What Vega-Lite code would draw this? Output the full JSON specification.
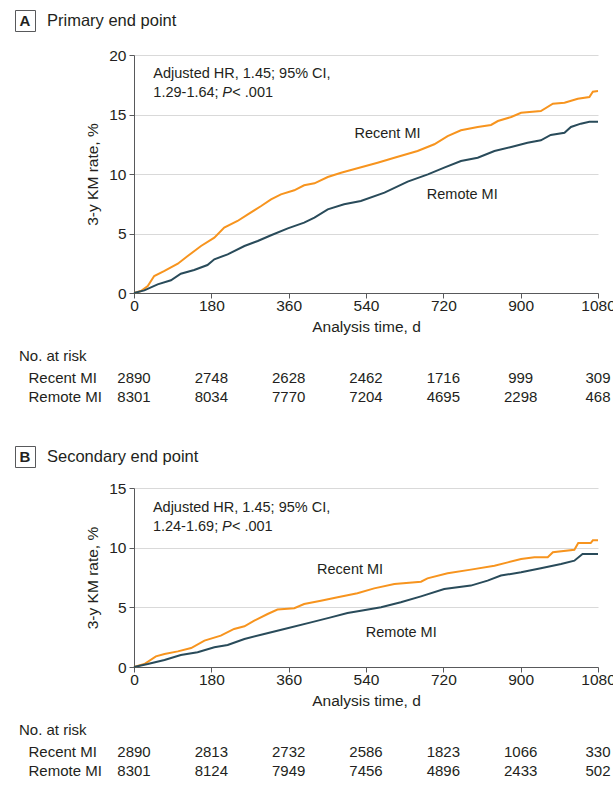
{
  "$schema": "https://vega.github.io/schema/vega-lite/v6.json",
  "background": "white",
  "padding": {"left": 14, "top": 9, "right": 0, "bottom": 0},
  "config": {
    "font": "Liberation Sans",
    "view": {"stroke": null},
    "axis": {
      "labelFont": "Liberation Sans",
      "titleFont": "Liberation Sans",
      "labelFontSize": 15.5,
      "titleFontSize": 15.5,
      "titleFontWeight": "normal",
      "labelColor": "#231F20",
      "titleColor": "#231F20",
      "domainColor": "#58595B",
      "tickColor": "#58595B",
      "tickSize": 5,
      "labelPadding": 3,
      "gridColor": "#D9D9D9",
      "labelFlush": false
    },
    "axisX": {"labelPadding": 0, "titlePadding": 6},
    "title": {"font": "Liberation Sans", "fontWeight": "normal", "color": "#231F20"},
    "text": {"font": "Liberation Sans", "color": "#231F20"}
  },
  "datasets": {
    "lineA": [
      {"group": "Recent MI", "day": 0, "rate": 0},
      {"group": "Recent MI", "day": 16, "rate": 0.17},
      {"group": "Recent MI", "day": 32, "rate": 0.59},
      {"group": "Recent MI", "day": 47, "rate": 1.43},
      {"group": "Recent MI", "day": 71, "rate": 1.85},
      {"group": "Recent MI", "day": 102, "rate": 2.46},
      {"group": "Recent MI", "day": 125, "rate": 3.11},
      {"group": "Recent MI", "day": 156, "rate": 3.95},
      {"group": "Recent MI", "day": 187, "rate": 4.65},
      {"group": "Recent MI", "day": 210, "rate": 5.49},
      {"group": "Recent MI", "day": 241, "rate": 6.05},
      {"group": "Recent MI", "day": 265, "rate": 6.61},
      {"group": "Recent MI", "day": 296, "rate": 7.31},
      {"group": "Recent MI", "day": 319, "rate": 7.87},
      {"group": "Recent MI", "day": 342, "rate": 8.29},
      {"group": "Recent MI", "day": 373, "rate": 8.63},
      {"group": "Recent MI", "day": 396, "rate": 9.05},
      {"group": "Recent MI", "day": 420, "rate": 9.22},
      {"group": "Recent MI", "day": 451, "rate": 9.75},
      {"group": "Recent MI", "day": 482, "rate": 10.11},
      {"group": "Recent MI", "day": 520, "rate": 10.48},
      {"group": "Recent MI", "day": 567, "rate": 10.95},
      {"group": "Recent MI", "day": 606, "rate": 11.37},
      {"group": "Recent MI", "day": 660, "rate": 11.93},
      {"group": "Recent MI", "day": 699, "rate": 12.5},
      {"group": "Recent MI", "day": 730, "rate": 13.19},
      {"group": "Recent MI", "day": 761, "rate": 13.67},
      {"group": "Recent MI", "day": 800, "rate": 13.95},
      {"group": "Recent MI", "day": 831, "rate": 14.12},
      {"group": "Recent MI", "day": 847, "rate": 14.45},
      {"group": "Recent MI", "day": 878, "rate": 14.79},
      {"group": "Recent MI", "day": 901, "rate": 15.15},
      {"group": "Recent MI", "day": 947, "rate": 15.29},
      {"group": "Recent MI", "day": 975, "rate": 15.91},
      {"group": "Recent MI", "day": 1002, "rate": 15.99},
      {"group": "Recent MI", "day": 1033, "rate": 16.33},
      {"group": "Recent MI", "day": 1060, "rate": 16.47},
      {"group": "Recent MI", "day": 1068, "rate": 16.92},
      {"group": "Recent MI", "day": 1080, "rate": 16.97},
      {"group": "Remote MI", "day": 0, "rate": 0},
      {"group": "Remote MI", "day": 24, "rate": 0.22},
      {"group": "Remote MI", "day": 55, "rate": 0.73},
      {"group": "Remote MI", "day": 86, "rate": 1.07},
      {"group": "Remote MI", "day": 109, "rate": 1.62},
      {"group": "Remote MI", "day": 140, "rate": 1.93},
      {"group": "Remote MI", "day": 171, "rate": 2.35},
      {"group": "Remote MI", "day": 187, "rate": 2.83},
      {"group": "Remote MI", "day": 218, "rate": 3.25},
      {"group": "Remote MI", "day": 257, "rate": 3.95},
      {"group": "Remote MI", "day": 288, "rate": 4.37},
      {"group": "Remote MI", "day": 319, "rate": 4.85},
      {"group": "Remote MI", "day": 358, "rate": 5.43},
      {"group": "Remote MI", "day": 396, "rate": 5.91},
      {"group": "Remote MI", "day": 420, "rate": 6.33},
      {"group": "Remote MI", "day": 451, "rate": 7.03},
      {"group": "Remote MI", "day": 489, "rate": 7.45},
      {"group": "Remote MI", "day": 528, "rate": 7.73},
      {"group": "Remote MI", "day": 583, "rate": 8.43},
      {"group": "Remote MI", "day": 637, "rate": 9.36},
      {"group": "Remote MI", "day": 684, "rate": 9.97},
      {"group": "Remote MI", "day": 722, "rate": 10.53},
      {"group": "Remote MI", "day": 761, "rate": 11.09},
      {"group": "Remote MI", "day": 800, "rate": 11.37},
      {"group": "Remote MI", "day": 839, "rate": 11.93},
      {"group": "Remote MI", "day": 878, "rate": 12.27},
      {"group": "Remote MI", "day": 916, "rate": 12.63},
      {"group": "Remote MI", "day": 947, "rate": 12.83},
      {"group": "Remote MI", "day": 970, "rate": 13.28},
      {"group": "Remote MI", "day": 1002, "rate": 13.47},
      {"group": "Remote MI", "day": 1017, "rate": 13.95},
      {"group": "Remote MI", "day": 1040, "rate": 14.23},
      {"group": "Remote MI", "day": 1060, "rate": 14.39},
      {"group": "Remote MI", "day": 1080, "rate": 14.39}
    ],
    "lineB": [
      {"group": "Recent MI", "day": 0, "rate": 0},
      {"group": "Recent MI", "day": 24, "rate": 0.25},
      {"group": "Recent MI", "day": 51, "rate": 0.89},
      {"group": "Recent MI", "day": 71, "rate": 1.09},
      {"group": "Recent MI", "day": 102, "rate": 1.31},
      {"group": "Recent MI", "day": 133, "rate": 1.59},
      {"group": "Recent MI", "day": 164, "rate": 2.21},
      {"group": "Recent MI", "day": 202, "rate": 2.63},
      {"group": "Recent MI", "day": 233, "rate": 3.19},
      {"group": "Recent MI", "day": 257, "rate": 3.41},
      {"group": "Recent MI", "day": 280, "rate": 3.88},
      {"group": "Recent MI", "day": 311, "rate": 4.44},
      {"group": "Recent MI", "day": 334, "rate": 4.81},
      {"group": "Recent MI", "day": 373, "rate": 4.92},
      {"group": "Recent MI", "day": 396, "rate": 5.28},
      {"group": "Recent MI", "day": 435, "rate": 5.56},
      {"group": "Recent MI", "day": 474, "rate": 5.84},
      {"group": "Recent MI", "day": 520, "rate": 6.18},
      {"group": "Recent MI", "day": 559, "rate": 6.59},
      {"group": "Recent MI", "day": 606, "rate": 6.96},
      {"group": "Recent MI", "day": 668, "rate": 7.15},
      {"group": "Recent MI", "day": 683, "rate": 7.43},
      {"group": "Recent MI", "day": 730, "rate": 7.85},
      {"group": "Recent MI", "day": 784, "rate": 8.16},
      {"group": "Recent MI", "day": 839, "rate": 8.49},
      {"group": "Recent MI", "day": 870, "rate": 8.77},
      {"group": "Recent MI", "day": 901, "rate": 9.05},
      {"group": "Recent MI", "day": 932, "rate": 9.19},
      {"group": "Recent MI", "day": 963, "rate": 9.19},
      {"group": "Recent MI", "day": 975, "rate": 9.61},
      {"group": "Recent MI", "day": 1025, "rate": 9.83},
      {"group": "Recent MI", "day": 1034, "rate": 10.39},
      {"group": "Recent MI", "day": 1063, "rate": 10.39},
      {"group": "Recent MI", "day": 1068, "rate": 10.62},
      {"group": "Recent MI", "day": 1080, "rate": 10.62},
      {"group": "Remote MI", "day": 0, "rate": 0},
      {"group": "Remote MI", "day": 32, "rate": 0.25},
      {"group": "Remote MI", "day": 71, "rate": 0.59},
      {"group": "Remote MI", "day": 109, "rate": 1.01},
      {"group": "Remote MI", "day": 148, "rate": 1.23},
      {"group": "Remote MI", "day": 187, "rate": 1.65},
      {"group": "Remote MI", "day": 218, "rate": 1.84},
      {"group": "Remote MI", "day": 257, "rate": 2.35},
      {"group": "Remote MI", "day": 303, "rate": 2.77},
      {"group": "Remote MI", "day": 350, "rate": 3.19},
      {"group": "Remote MI", "day": 412, "rate": 3.74},
      {"group": "Remote MI", "day": 458, "rate": 4.16},
      {"group": "Remote MI", "day": 497, "rate": 4.52},
      {"group": "Remote MI", "day": 528, "rate": 4.72},
      {"group": "Remote MI", "day": 575, "rate": 5.0},
      {"group": "Remote MI", "day": 621, "rate": 5.42},
      {"group": "Remote MI", "day": 668, "rate": 5.92},
      {"group": "Remote MI", "day": 722, "rate": 6.54},
      {"group": "Remote MI", "day": 784, "rate": 6.82},
      {"group": "Remote MI", "day": 823, "rate": 7.24},
      {"group": "Remote MI", "day": 854, "rate": 7.66},
      {"group": "Remote MI", "day": 901, "rate": 7.94},
      {"group": "Remote MI", "day": 947, "rate": 8.27},
      {"group": "Remote MI", "day": 994, "rate": 8.63},
      {"group": "Remote MI", "day": 1025, "rate": 8.91},
      {"group": "Remote MI", "day": 1044, "rate": 9.47},
      {"group": "Remote MI", "day": 1080, "rate": 9.47}
    ],
    "riskA": [
      {"group": "Recent MI", "day": 0, "n": "2890"},
      {"group": "Recent MI", "day": 180, "n": "2748"},
      {"group": "Recent MI", "day": 360, "n": "2628"},
      {"group": "Recent MI", "day": 540, "n": "2462"},
      {"group": "Recent MI", "day": 720, "n": "1716"},
      {"group": "Recent MI", "day": 900, "n": "999"},
      {"group": "Recent MI", "day": 1080, "n": "309"},
      {"group": "Remote MI", "day": 0, "n": "8301"},
      {"group": "Remote MI", "day": 180, "n": "8034"},
      {"group": "Remote MI", "day": 360, "n": "7770"},
      {"group": "Remote MI", "day": 540, "n": "7204"},
      {"group": "Remote MI", "day": 720, "n": "4695"},
      {"group": "Remote MI", "day": 900, "n": "2298"},
      {"group": "Remote MI", "day": 1080, "n": "468"}
    ],
    "riskB": [
      {"group": "Recent MI", "day": 0, "n": "2890"},
      {"group": "Recent MI", "day": 180, "n": "2813"},
      {"group": "Recent MI", "day": 360, "n": "2732"},
      {"group": "Recent MI", "day": 540, "n": "2586"},
      {"group": "Recent MI", "day": 720, "n": "1823"},
      {"group": "Recent MI", "day": 900, "n": "1066"},
      {"group": "Recent MI", "day": 1080, "n": "330"},
      {"group": "Remote MI", "day": 0, "n": "8301"},
      {"group": "Remote MI", "day": 180, "n": "8124"},
      {"group": "Remote MI", "day": 360, "n": "7949"},
      {"group": "Remote MI", "day": 540, "n": "7456"},
      {"group": "Remote MI", "day": 720, "n": "4896"},
      {"group": "Remote MI", "day": 900, "n": "2433"},
      {"group": "Remote MI", "day": 1080, "n": "502"}
    ]
  },
  "spacing": 39,
  "vconcat": [
    {
      "spacing": 16,
      "vconcat": [
        {
          "width": 20,
          "height": 21,
          "view": {"stroke": "#58595B", "strokeWidth": 1},
          "data": {"values": [{"letter": "A", "label": "Primary end point"}]},
          "layer": [
            {"mark": {"type": "text", "fontWeight": "bold", "fontSize": 15, "baseline": "middle"}, "encoding": {"text": {"field": "letter"}}},
            {"mark": {"type": "text", "align": "left", "fontSize": 16.5, "baseline": "middle", "dx": 22}, "encoding": {"text": {"field": "label"}}}
          ]
        },
        {
          "spacing": 3,
          "hconcat": [
            {"width": 1, "height": 1, "data": {"values": []}, "mark": "point"},
            {
              "spacing": 14,
              "vconcat": [
                {
                  "width": 464,
                  "height": 238,
                  "layer": [
                    {
                      "data": {"name": "lineA"},
                      "mark": {"type": "line", "strokeWidth": 2},
                      "encoding": {
                        "x": {"field": "day", "type": "quantitative", "scale": {"domain": [0, 1080], "nice": false}, "axis": {"values": [0, 180, 360, 540, 720, 900, 1080], "format": "d", "title": "Analysis time, d", "grid": false}},
                        "y": {"field": "rate", "type": "quantitative", "scale": {"domain": [0, 20], "nice": false}, "axis": {"values": [0, 5, 10, 15, 20], "title": "3-y KM rate, %", "grid": true, "titlePadding": 8}},
                        "color": {"field": "group", "type": "nominal", "scale": {"domain": ["Recent MI", "Remote MI"], "range": ["#F7941E", "#294B5A"]}, "legend": null}
                      }
                    },
                    {
                      "data": {"values": [{"line1": "Adjusted HR, 1.45; 95% CI,", "line2": "1.29-1.64; ", "p": "P", "rest": "< .001"}]},
                      "layer": [
                        {"mark": {"type": "text", "align": "left", "fontSize": 14.5, "baseline": "middle"}, "encoding": {"x": {"datum": 45}, "y": {"datum": 18.38}, "text": {"field": "line1"}}},
                        {"mark": {"type": "text", "align": "left", "fontSize": 14.5, "baseline": "middle"}, "encoding": {"x": {"datum": 45}, "y": {"datum": 16.78}, "text": {"field": "line2"}}},
                        {"mark": {"type": "text", "align": "left", "fontSize": 14.5, "baseline": "middle", "fontStyle": "italic", "dx": 69}, "encoding": {"x": {"datum": 45}, "y": {"datum": 16.78}, "text": {"field": "p"}}},
                        {"mark": {"type": "text", "align": "left", "fontSize": 14.5, "baseline": "middle", "dx": 79}, "encoding": {"x": {"datum": 45}, "y": {"datum": 16.78}, "text": {"field": "rest"}}}
                      ]
                    },
                    {
                      "data": {"values": [{"label": "Recent MI", "day": 590, "rate": 13.39}, {"label": "Remote MI", "day": 764, "rate": 8.21}]},
                      "mark": {"type": "text", "fontSize": 14.5, "baseline": "middle"},
                      "encoding": {"x": {"field": "day", "type": "quantitative"}, "y": {"field": "rate", "type": "quantitative"}, "text": {"field": "label"}}
                    }
                  ]
                },
                {
                  "width": 464,
                  "height": 38,
                  "title": {"text": "No. at risk", "anchor": "start", "frame": "group", "dx": -115, "fontSize": 15, "offset": 4},
                  "data": {"name": "riskA"},
                  "mark": {"type": "text", "fontSize": 15, "baseline": "middle"},
                  "encoding": {
                    "x": {"field": "day", "type": "quantitative", "scale": {"domain": [0, 1080], "nice": false}, "axis": null},
                    "y": {"field": "group", "type": "nominal", "scale": {"domain": ["Recent MI", "Remote MI"]}, "axis": {"title": null, "domain": false, "ticks": false, "labelAlign": "left", "labelPadding": 106, "labelFontSize": 15}},
                    "text": {"field": "n", "type": "nominal"}
                  }
                }
              ]
            }
          ]
        }
      ]
    },
    {
      "spacing": 13,
      "vconcat": [
        {
          "width": 20,
          "height": 21,
          "view": {"stroke": "#58595B", "strokeWidth": 1},
          "data": {"values": [{"letter": "B", "label": "Secondary end point"}]},
          "layer": [
            {"mark": {"type": "text", "fontWeight": "bold", "fontSize": 15, "baseline": "middle"}, "encoding": {"text": {"field": "letter"}}},
            {"mark": {"type": "text", "align": "left", "fontSize": 16.5, "baseline": "middle", "dx": 22}, "encoding": {"text": {"field": "label"}}}
          ]
        },
        {
          "spacing": 3,
          "hconcat": [
            {"width": 1, "height": 1, "data": {"values": []}, "mark": "point"},
            {
              "spacing": 14,
              "vconcat": [
                {
                  "width": 464,
                  "height": 179,
                  "layer": [
                    {
                      "data": {"name": "lineB"},
                      "mark": {"type": "line", "strokeWidth": 2},
                      "encoding": {
                        "x": {"field": "day", "type": "quantitative", "scale": {"domain": [0, 1080], "nice": false}, "axis": {"values": [0, 180, 360, 540, 720, 900, 1080], "format": "d", "title": "Analysis time, d", "grid": false}},
                        "y": {"field": "rate", "type": "quantitative", "scale": {"domain": [0, 15], "nice": false}, "axis": {"values": [0, 5, 10, 15], "title": "3-y KM rate, %", "grid": true, "titlePadding": 8}},
                        "color": {"field": "group", "type": "nominal", "scale": {"domain": ["Recent MI", "Remote MI"], "range": ["#F7941E", "#294B5A"]}, "legend": null}
                      }
                    },
                    {
                      "data": {"values": [{"line1": "Adjusted HR, 1.45; 95% CI,", "line2": "1.24-1.69; ", "p": "P", "rest": "< .001"}]},
                      "layer": [
                        {"mark": {"type": "text", "align": "left", "fontSize": 14.5, "baseline": "middle"}, "encoding": {"x": {"datum": 44}, "y": {"datum": 13.3}, "text": {"field": "line1"}}},
                        {"mark": {"type": "text", "align": "left", "fontSize": 14.5, "baseline": "middle"}, "encoding": {"x": {"datum": 44}, "y": {"datum": 11.71}, "text": {"field": "line2"}}},
                        {"mark": {"type": "text", "align": "left", "fontSize": 14.5, "baseline": "middle", "fontStyle": "italic", "dx": 69}, "encoding": {"x": {"datum": 44}, "y": {"datum": 11.71}, "text": {"field": "p"}}},
                        {"mark": {"type": "text", "align": "left", "fontSize": 14.5, "baseline": "middle", "dx": 79}, "encoding": {"x": {"datum": 44}, "y": {"datum": 11.71}, "text": {"field": "rest"}}}
                      ]
                    },
                    {
                      "data": {"values": [{"label": "Recent MI", "day": 503, "rate": 8.16}, {"label": "Remote MI", "day": 622, "rate": 2.85}]},
                      "mark": {"type": "text", "fontSize": 14.5, "baseline": "middle"},
                      "encoding": {"x": {"field": "day", "type": "quantitative"}, "y": {"field": "rate", "type": "quantitative"}, "text": {"field": "label"}}
                    }
                  ]
                },
                {
                  "width": 464,
                  "height": 38,
                  "title": {"text": "No. at risk", "anchor": "start", "frame": "group", "dx": -115, "fontSize": 15, "offset": 4},
                  "data": {"name": "riskB"},
                  "mark": {"type": "text", "fontSize": 15, "baseline": "middle"},
                  "encoding": {
                    "x": {"field": "day", "type": "quantitative", "scale": {"domain": [0, 1080], "nice": false}, "axis": null},
                    "y": {"field": "group", "type": "nominal", "scale": {"domain": ["Recent MI", "Remote MI"]}, "axis": {"title": null, "domain": false, "ticks": false, "labelAlign": "left", "labelPadding": 106, "labelFontSize": 15}},
                    "text": {"field": "n", "type": "nominal"}
                  }
                }
              ]
            }
          ]
        }
      ]
    }
  ]
}
